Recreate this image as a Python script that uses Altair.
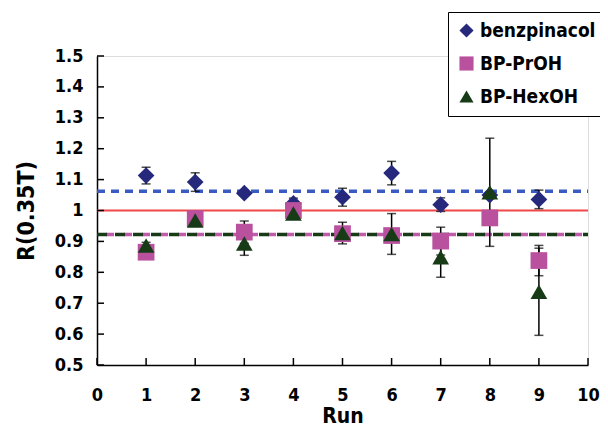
import altair as alt
import pandas as pd

runs = [1, 2, 3, 4, 5, 6, 7, 8, 9]
series_names = ["benzpinacol", "BP-PrOH", "BP-HexOH"]
benz = [1.113, 1.092, 1.056, 1.023, 1.043, 1.121, 1.019, 1.050, 1.036]
benz_err = [0.027, 0.030, 0.010, 0.017, 0.029, 0.038, 0.022, 0.010, 0.030]
prop = [0.865, 0.974, 0.930, 1.000, 0.925, 0.919, 0.901, 0.976, 0.838]
prop_err = [0.010, 0.010, 0.036, 0.010, 0.010, 0.010, 0.045, 0.010, 0.049]
hexo = [0.887, 0.968, 0.893, 0.990, 0.927, 0.924, 0.849, 1.059, 0.737]
hexo_err = [0.010, 0.010, 0.038, 0.010, 0.035, 0.066, 0.065, 0.175, 0.141]

ref_vals = [1.0, 1.062, 0.922, 0.922]
ref_names = ["unity", "benzpinacol", "BP-PrOH", "BP-HexOH"]
ref_x = [0, 10]

x_ticks = [0, 1, 2, 3, 4, 5, 6, 7, 8, 9, 10]
y_ticks = [0.5, 0.6, 0.7, 0.8, 0.9, 1.0, 1.1, 1.2, 1.3, 1.4, 1.5]

FONT = "DejaVu Sans Condensed, sans-serif"
W, H = 491, 309

rows = []
for name, vals, errs in [(series_names[0], benz, benz_err),
                         (series_names[1], prop, prop_err),
                         (series_names[2], hexo, hexo_err)]:
    for r, v, e in zip(runs, vals, errs):
        rows.append({"run": r, "series": name, "R": v, "lo": v - e, "hi": v + e,
                     "order": series_names.index(name)})
df = pd.DataFrame(rows)

ref_df = pd.DataFrame({"name": ref_names, "val": ref_vals,
                       "x0": [ref_x[0]] * 4, "x1": [ref_x[1]] * 4})

xs = alt.Scale(domain=[0, 10], nice=False, zero=False)
ys = alt.Scale(domain=[0.5, 1.5], nice=False, zero=False)

x_axis = alt.Axis(values=x_ticks, ticks=False, tickSize=0, labelPadding=21,
                  labelFontSize=18, labelFont=FONT, labelFontWeight="bold",
                  title="Run", titleFontSize=21, titleFont=FONT, titleFontWeight="bold",
                  titlePadding=1, domainColor="black", domainWidth=1.5, grid=False,
                  labelColor="black", titleColor="black", labelFlush=False,
                  labelOverlap=False)
y_axis = alt.Axis(values=y_ticks, ticks=False, tickSize=0, labelPadding=14,
                  labelFontSize=18, labelFont=FONT, labelFontWeight="bold",
                  title="R(0.35T)", titleFontSize=23, titleFont=FONT, titleFontWeight="bold",
                  titlePadding=16, domainColor="black", domainWidth=1.5, grid=False,
                  labelColor="black", titleColor="black", labelFlush=False,
                  labelOverlap=False,
                  labelExpr="datum.value == 1 ? '1' : format(datum.value, '.1f')")


def xq(f):
    return alt.X(f, scale=xs, axis=x_axis)


def yq(f):
    return alt.Y(f, scale=ys, axis=y_axis)


ref_base = alt.Chart(ref_df)
red_line = ref_base.transform_filter(alt.datum.name == "unity").mark_rule(
    color="#f04848", strokeWidth=1.8).encode(x=xq("x0:Q"), x2="x1:Q", y=yq("val:Q"))
blue_line = ref_base.transform_filter(alt.datum.name == "benzpinacol").mark_rule(
    color="#3a5cc0", strokeWidth=3.5, strokeDash=[8, 6]).encode(
    x=xq("x0:Q"), x2="x1:Q", y=yq("val:Q"))
pink_line = ref_base.transform_filter(alt.datum.name == "BP-PrOH").mark_rule(
    color="#c05aab", strokeWidth=3.5, strokeDash=[8, 10], strokeDashOffset=9).encode(
    x=xq("x0:Q"), x2="x1:Q", y=yq("val:Q"))
green_line = ref_base.transform_filter(alt.datum.name == "BP-HexOH").mark_rule(
    color="#173a17", strokeWidth=3.5, strokeDash=[10, 8]).encode(
    x=xq("x0:Q"), x2="x1:Q", y=yq("val:Q"))

err_base = alt.Chart(df)
err_line = err_base.mark_rule(color="black", strokeWidth=1.5).encode(
    x=xq("run:Q"), y=yq("lo:Q"), y2="hi:Q")
cap_lo = err_base.mark_tick(color="black", thickness=1.5, size=9, orient="horizontal").encode(
    x=xq("run:Q"), y=yq("lo:Q"))
cap_hi = err_base.mark_tick(color="black", thickness=1.5, size=9, orient="horizontal").encode(
    x=xq("run:Q"), y=yq("hi:Q"))

leg = alt.Legend(title=None, orient="none", legendX=351, legendY=-44,
                 strokeColor="black", fillColor="white", padding=9, cornerRadius=0,
                 labelFont=FONT, labelFontSize=19, labelFontWeight="bold",
                 labelColor="black", symbolSize=200, rowPadding=13, labelOffset=4,
                 symbolStrokeWidth=0, labelLimit=300)

markers = alt.Chart(df).mark_point(filled=True, opacity=1, size=280).encode(
    x=xq("run:Q"),
    y=yq("R:Q"),
    color=alt.Color("series:N", scale=alt.Scale(domain=series_names,
                    range=["#26287c", "#b9519f", "#173b17"]), legend=leg),
    shape=alt.Shape("series:N", scale=alt.Scale(domain=series_names,
                    range=["diamond", "square", "triangle-up"]), legend=leg),
    order=alt.Order("order:Q"),
)

xt_df = pd.DataFrame({"t": x_ticks})
yt_df = pd.DataFrame({"t": y_ticks})
x_tick_marks = alt.Chart(xt_df).mark_rule(color="black", strokeWidth=1.5).encode(
    x=xq("t:Q"), y=alt.value(H), y2=alt.value(H - 7))
y_tick_marks = alt.Chart(yt_df).mark_rule(color="black", strokeWidth=1.5).encode(
    y=yq("t:Q"), x=alt.value(0), x2=alt.value(7))

chart = alt.layer(
    red_line, blue_line, pink_line, green_line,
    err_line, cap_lo, cap_hi, markers, x_tick_marks, y_tick_marks
).properties(
    width=W, height=H,
    autosize=alt.AutoSizeParams(type="none"),
    padding={"left": 89, "top": 48, "right": 12, "bottom": 62},
).configure_view(stroke=None).configure_axis(
    labelOverlap=False, grid=False).configure(background="white")

chart.save("out.html", embed_options={"renderer": "svg", "actions": False})
